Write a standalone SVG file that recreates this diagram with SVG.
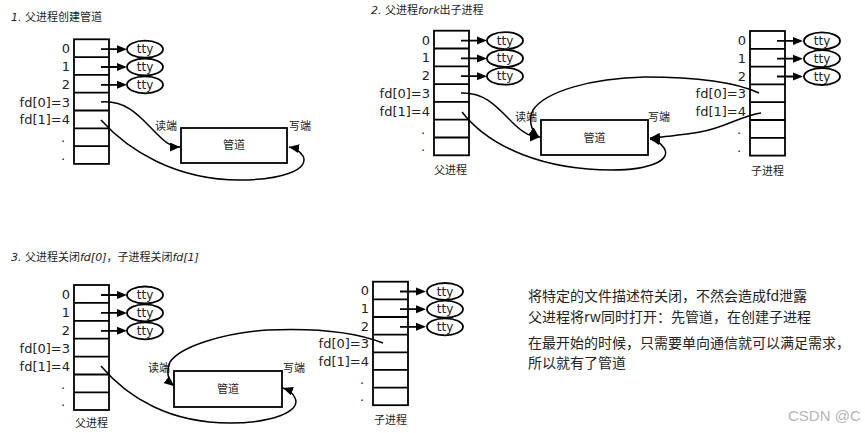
<svg xmlns="http://www.w3.org/2000/svg" width="865" height="433" viewBox="0 0 865 433">
<defs>
<style>
.bg{fill:#fff}
.tbl{fill:#fff;stroke:#000;stroke-width:1.8}
.ln{stroke:#000;stroke-width:1.8;fill:none}
.lbl{font-family:"DejaVu Sans",sans-serif;font-size:13px;fill:#222;text-anchor:end}
.dot{font-family:"DejaVu Sans",sans-serif;font-size:13px;fill:#222;text-anchor:middle}
.tty{fill:#fff;stroke:#000;stroke-width:1.8}
.ttyt{font-family:"DejaVu Sans",sans-serif;font-size:12px;fill:#222;text-anchor:middle}
.ah{fill:#000}
.pipe{fill:#fff;stroke:#000;stroke-width:1.8}
.cn{font-family:"DejaVu Sans","Noto Sans CJK SC",sans-serif;font-size:11px;fill:#222}
.title{font-family:"DejaVu Sans","Noto Sans CJK SC",sans-serif;font-size:11px;fill:#222}
.note{font-family:"Noto Sans CJK SC",sans-serif;font-size:14px;fill:#222}
.wm{font-family:"Liberation Sans",Arial,sans-serif;font-size:15px;fill:#b4b4b4}
.conn{fill:none;stroke:#000;stroke-width:1.5}
</style>
<marker id="arr" markerUnits="userSpaceOnUse" markerWidth="10" markerHeight="9" viewBox="0 0 10 9" refX="10" refY="4.5" orient="auto">
<path d="M0,0 L10,4.5 L0,9 Z" fill="#000"/>
</marker>
</defs>
<rect class="bg" x="0" y="0" width="865" height="433"/>

<!-- titles -->
<g id="titles">
<text class="title" x="11" y="21"><tspan font-style="italic">1.</tspan> 父进程创建管道</text>
<text class="title" x="371" y="14"><tspan font-style="italic">2.</tspan> 父进程<tspan font-style="italic">fork</tspan>出子进程</text>
<text class="title" x="11" y="261"><tspan font-style="italic">3.</tspan> 父进程关闭<tspan font-style="italic">fd[0]</tspan>，子进程关闭<tspan font-style="italic">fd[1]</tspan></text>
</g>

<!-- Panel 1 parent table -->
<g id="p1-parent" transform="translate(74,39.3)">
<rect class="tbl" x="0" y="0" width="35" height="124.6"/>
<path class="ln" d="M0,17.8H35M0,35.6H35M0,53.4H35M0,71.2H35M0,89H35M0,106.8H35"/>
<text class="lbl" x="-4" y="13.9">0</text>
<text class="lbl" x="-4" y="31.7">1</text>
<text class="lbl" x="-4" y="49.5">2</text>
<text class="lbl" x="-4" y="67.3">fd[0]=3</text>
<text class="lbl" x="-4" y="85.1">fd[1]=4</text>
<text class="dot" x="-11" y="102.9">.</text>
<text class="dot" x="-11" y="120.7">.</text>
<path class="ln" d="M27,9.9H44M27,27.7H44M27,45.5H44"/>
<path class="ah" d="M43,5.9L53,9.9L43,13.9ZM43,23.7L53,27.7L43,31.7ZM43,41.5L53,45.5L43,49.5Z"/>
<ellipse class="tty" cx="71" cy="9.9" rx="18" ry="8.5"/>
<ellipse class="tty" cx="71" cy="27.7" rx="18" ry="8.5"/>
<ellipse class="tty" cx="71" cy="45.5" rx="18" ry="8.5"/>
<text class="ttyt" x="71" y="14">tty</text>
<text class="ttyt" x="71" y="31.8">tty</text>
<text class="ttyt" x="71" y="49.6">tty</text>
</g>
<g id="p1-pipe">
<rect class="pipe" x="181" y="128" width="106" height="35"/>
<text class="cn" x="234" y="149" text-anchor="middle">管道</text>
<text class="cn" x="155" y="129.5">读端</text>
<text class="cn" x="289" y="129.5">写端</text>
</g>

<!-- Panel 2 parent table -->
<g id="p2-parent" transform="translate(434,30.7)">
<rect class="tbl" x="0" y="0" width="35" height="124.6"/>
<path class="ln" d="M0,17.8H35M0,35.6H35M0,53.4H35M0,71.2H35M0,89H35M0,106.8H35"/>
<text class="lbl" x="-4" y="13.9">0</text>
<text class="lbl" x="-4" y="31.7">1</text>
<text class="lbl" x="-4" y="49.5">2</text>
<text class="lbl" x="-4" y="67.3">fd[0]=3</text>
<text class="lbl" x="-4" y="85.1">fd[1]=4</text>
<text class="dot" x="-11" y="102.9">.</text>
<text class="dot" x="-11" y="120.7">.</text>
<path class="ln" d="M27,9.9H44M27,27.7H44M27,45.5H44"/>
<path class="ah" d="M43,5.9L53,9.9L43,13.9ZM43,23.7L53,27.7L43,31.7ZM43,41.5L53,45.5L43,49.5Z"/>
<ellipse class="tty" cx="71" cy="9.9" rx="18" ry="8.5"/>
<ellipse class="tty" cx="71" cy="27.7" rx="18" ry="8.5"/>
<ellipse class="tty" cx="71" cy="45.5" rx="18" ry="8.5"/>
<text class="ttyt" x="71" y="14">tty</text>
<text class="ttyt" x="71" y="31.8">tty</text>
<text class="ttyt" x="71" y="49.6">tty</text>
<text class="cn" x="0" y="143.5">父进程</text>
</g>
<g id="p2-child" transform="translate(750,31)">
<rect class="tbl" x="0" y="0" width="35" height="124.6"/>
<path class="ln" d="M0,17.8H35M0,35.6H35M0,53.4H35M0,71.2H35M0,89H35M0,106.8H35"/>
<text class="lbl" x="-4" y="13.9">0</text>
<text class="lbl" x="-4" y="31.7">1</text>
<text class="lbl" x="-4" y="49.5">2</text>
<text class="lbl" x="-4" y="67.3">fd[0]=3</text>
<text class="lbl" x="-4" y="85.1">fd[1]=4</text>
<text class="dot" x="-11" y="102.9">.</text>
<text class="dot" x="-11" y="120.7">.</text>
<path class="ln" d="M27,9.9H44M27,27.7H44M27,45.5H44"/>
<path class="ah" d="M43,5.9L53,9.9L43,13.9ZM43,23.7L53,27.7L43,31.7ZM43,41.5L53,45.5L43,49.5Z"/>
<ellipse class="tty" cx="72" cy="9.9" rx="18" ry="8.5"/>
<ellipse class="tty" cx="72" cy="27.7" rx="18" ry="8.5"/>
<ellipse class="tty" cx="72" cy="45.5" rx="18" ry="8.5"/>
<text class="ttyt" x="72" y="14">tty</text>
<text class="ttyt" x="72" y="31.8">tty</text>
<text class="ttyt" x="72" y="49.6">tty</text>
<text class="cn" x="1" y="143.5">子进程</text>
</g>
<g id="p2-pipe">
<rect class="pipe" x="541" y="120" width="107" height="35"/>
<text class="cn" x="594.5" y="142" text-anchor="middle">管道</text>
<text class="cn" x="515" y="121">读端</text>
<text class="cn" x="648" y="121">写端</text>
</g>

<!-- Panel 3 -->
<g id="p3-parent" transform="translate(74,285)">
<rect class="tbl" x="0" y="0" width="35" height="125"/>
<path class="ln" d="M0,17.9H35M0,35.8H35M0,53.7H35M0,71.6H35M0,89.5H35M0,107.4H35"/>
<text class="lbl" x="-4" y="14">0</text>
<text class="lbl" x="-4" y="31.9">1</text>
<text class="lbl" x="-4" y="49.8">2</text>
<text class="lbl" x="-4" y="67.7">fd[0]=3</text>
<text class="lbl" x="-4" y="85.6">fd[1]=4</text>
<text class="dot" x="-11" y="103.5">.</text>
<text class="dot" x="-11" y="121.4">.</text>
<path class="ln" d="M27,10H44M27,27.9H44M27,45.8H44"/>
<path class="ah" d="M43,6L53,10L43,14ZM43,23.9L53,27.9L43,31.9ZM43,41.8L53,45.8L43,49.8Z"/>
<ellipse class="tty" cx="71" cy="10" rx="18" ry="8.5"/>
<ellipse class="tty" cx="71" cy="27.9" rx="18" ry="8.5"/>
<ellipse class="tty" cx="71" cy="45.8" rx="18" ry="8.5"/>
<text class="ttyt" x="71" y="14.1">tty</text>
<text class="ttyt" x="71" y="32">tty</text>
<text class="ttyt" x="71" y="49.9">tty</text>
<text class="cn" x="1" y="142">父进程</text>
</g>
<g id="p3-child" transform="translate(373,281.7)">
<rect class="tbl" x="0" y="0" width="35" height="123.5"/>
<path class="ln" d="M0,17.65H35M0,35.3H35M0,52.95H35M0,70.6H35M0,88.25H35M0,105.9H35"/>
<text class="lbl" x="-4" y="13.8">0</text>
<text class="lbl" x="-4" y="31.5">1</text>
<text class="lbl" x="-4" y="49.1">2</text>
<text class="lbl" x="-4" y="66.8">fd[0]=3</text>
<text class="lbl" x="-4" y="84.4">fd[1]=4</text>
<text class="dot" x="-11" y="102">.</text>
<text class="dot" x="-11" y="119.7">.</text>
<path class="ln" d="M27,9.8H44M27,27.5H44M27,45.1H44"/>
<path class="ah" d="M43,5.8L53,9.8L43,13.8ZM43,23.5L53,27.5L43,31.5ZM43,41.1L53,45.1L43,49.1Z"/>
<ellipse class="tty" cx="72" cy="9.8" rx="18" ry="8.5"/>
<ellipse class="tty" cx="72" cy="27.5" rx="18" ry="8.5"/>
<ellipse class="tty" cx="72" cy="45.1" rx="18" ry="8.5"/>
<text class="ttyt" x="72" y="13.9">tty</text>
<text class="ttyt" x="72" y="31.6">tty</text>
<text class="ttyt" x="72" y="49.2">tty</text>
<text class="cn" x="1" y="142.3">子进程</text>
</g>
<g id="p3-pipe">
<rect class="pipe" x="174" y="371" width="108" height="36"/>
<text class="cn" x="228" y="392.5" text-anchor="middle">管道</text>
<text class="cn" x="148" y="372">读端</text>
<text class="cn" x="283" y="372">写端</text>
</g>

<!-- connectors -->
<g id="connectors">
<path class="conn" marker-end="url(#arr)" d="M101,102 C128,100 141,118 155,132 C164,141 170,147 180,147"/>
<path class="conn" marker-end="url(#arr)" d="M101,120 C128,150 175,180 240,180 C280,180 310,170 303,156 C299,150 295,148 289,147"/>
<path class="conn" marker-end="url(#arr)" d="M461,93 C488,92 500,111 515,125 C525,134 531,137 540,137"/>
<path class="conn" marker-end="url(#arr)" d="M462,112 C490,148 545,170 612,170 C650,170 672,160 664,148 C660,142 656,140 650,139"/>
<path class="conn" marker-end="url(#arr)" d="M759,93 C735,82 700,77 645,77 C590,78 545,92 533,110 C528,120 531,131 539,137"/>
<path class="conn" marker-end="url(#arr)" d="M761,113 C740,116 725,128 700,132 C680,135 665,137 650,138"/>
<path class="conn" marker-end="url(#arr)" d="M101,366 C128,398 170,423 230,423 C270,423 302,412 295,398 C292,392 289,390 283,388"/>
<path class="conn" marker-end="url(#arr)" d="M383,343 C355,332 315,328 268,330 C222,333 180,347 170,362 C166,372 168,381 174,386"/>
</g>

<!-- notes -->
<g id="notes">
<text class="note" x="528" y="301">将特定的文件描述符关闭，不然会造成fd泄露</text>
<text class="note" x="528" y="322">父进程将rw同时打开：先管道，在创建子进程</text>
<text class="note" x="528" y="348">在最开始的时候，只需要单向通信就可以满足需求，</text>
<text class="note" x="528" y="368">所以就有了管道</text>
<text class="wm" x="788" y="421">CSDN @C</text>
</g>
</svg>
